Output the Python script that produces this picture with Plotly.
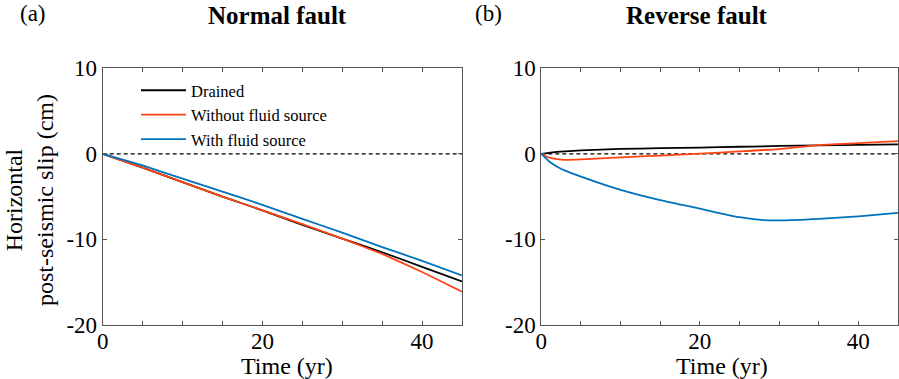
import plotly.graph_objects as go

# ---- data ----
t_normal = [0, 5, 10, 15, 20, 25, 30, 35, 40, 45]
normal_drained = [0, -1.6, -3.3, -5.0, -6.6, -8.3, -9.9, -11.5, -13.2, -14.9]
normal_without = [0, -1.6, -3.3, -5.0, -6.6, -8.2, -9.9, -11.7, -13.8, -16.1]
normal_with = [0, -1.35, -2.9, -4.4, -5.95, -7.6, -9.2, -10.9, -12.5, -14.2]

t_reverse = [0, 1, 2, 3, 5, 10, 15, 20, 25, 28, 30, 35, 40, 45]
reverse_drained = [0, 0.12, 0.23, 0.3, 0.4, 0.58, 0.66, 0.74, 0.83, 0.88, 0.93, 1.0, 1.06, 1.12]
reverse_without = [0, -0.45, -0.62, -0.7, -0.65, -0.4, -0.2, 0.02, 0.28, 0.45, 0.56, 1.02, 1.25, 1.5]
reverse_with = [0, -0.9, -1.5, -1.95, -2.65, -4.2, -5.4, -6.4, -7.4, -7.74, -7.78, -7.6, -7.3, -6.9]

series_names = ["Drained", "Without fluid source", "With fluid source"]
series_colors = ["#000000", "#FF4513", "#0072BD"]

x_tickvals = [0, 5, 10, 15, 20, 25, 30, 35, 40, 45]
x_ticktext = ["0", "", "", "", "20", "", "", "", "40", ""]
y_tickvals = [-20, -10, 0, 10]
y_ticktext = ["-20", "-10", "0", "10"]

panel_titles = ["Normal fault", "Reverse fault"]
panel_labels = ["(a)", "(b)"]
x_title = "Time (yr)"
y_title = "Horizontal<br>post-seismic slip (cm)"

FONT = "Liberation Serif"
W, H = 899, 379


def px_x(p):
    return p / W


def px_y(p):
    return 1 - p / H


fig = go.Figure()

normal = [normal_drained, normal_without, normal_with]
reverse = [reverse_drained, reverse_without, reverse_with]
for i in range(3):
    fig.add_trace(go.Scatter(x=t_normal, y=normal[i], mode="lines", name=series_names[i],
                             line=dict(color=series_colors[i], width=1.8, shape="spline", smoothing=0.3),
                             xaxis="x", yaxis="y", showlegend=True))
for i in range(3):
    fig.add_trace(go.Scatter(x=t_reverse, y=reverse[i], mode="lines", name=series_names[i],
                             line=dict(color=series_colors[i], width=1.8, shape="spline", smoothing=0.5),
                             xaxis="x2", yaxis="y2", showlegend=False))

ydom = [px_y(325), px_y(68.3)]
xdom1 = [px_x(102.7), px_x(462)]
xdom2 = [px_x(541.3), px_x(898.0)]

axis_common = dict(showgrid=False, zeroline=False, showline=True, linecolor="#555555", linewidth=1,
                   mirror="ticks", ticks="inside", ticklen=4, tickcolor="#555555", tickwidth=1,
                   automargin=False,
                   tickfont=dict(family=FONT, size=23, color="#000000"))

xaxis_common = dict(axis_common, ticklabelstandoff=-5)

fig.update_layout(
    template="none",
    width=W, height=H,
    margin=dict(l=0, r=0, t=0, b=0, pad=0),
    paper_bgcolor="white", plot_bgcolor="white",
    font=dict(family=FONT, color="#000000"),
    xaxis=dict(domain=xdom1, range=[0, 45], tickmode="array", tickvals=x_tickvals, ticktext=x_ticktext,
               anchor="y", **xaxis_common),
    yaxis=dict(domain=ydom, range=[-20, 10], tickmode="array", tickvals=y_tickvals, ticktext=y_ticktext,
               anchor="x", **axis_common),
    xaxis2=dict(domain=xdom2, range=[0, 45], tickmode="array", tickvals=x_tickvals, ticktext=x_ticktext,
                anchor="y2", **xaxis_common),
    yaxis2=dict(domain=ydom, range=[-20, 10], tickmode="array", tickvals=y_tickvals, ticktext=y_ticktext,
                anchor="x2", **axis_common),
    legend=dict(x=px_x(136), y=px_y(73), xanchor="left", yanchor="top", bgcolor="rgba(0,0,0,0)",
                font=dict(family=FONT, size=16.5, color="#000000"), tracegroupgap=0, itemwidth=45),
    showlegend=True,
)

for xr, yr in [("x", "y"), ("x2", "y2")]:
    fig.add_shape(type="line", xref=f"{xr} domain", yref=yr, x0=0, x1=1, y0=0, y1=0,
                  line=dict(color="#000000", width=1.2, dash="4px,3px"), layer="below")

annotations = []
for cx, title in zip([277, 697], panel_titles):
    annotations.append(dict(text=f"<b>{title}</b>", x=px_x(cx), y=px_y(15),
                            xref="paper", yref="paper", showarrow=False,
                            font=dict(family=FONT, size=25), xanchor="center", yanchor="middle"))
for cx in [287, 722]:
    annotations.append(dict(text=x_title, x=px_x(cx), y=px_y(366), xref="paper", yref="paper",
                            showarrow=False, font=dict(family=FONT, size=24),
                            xanchor="center", yanchor="middle"))
for cx, label in zip([33, 488], panel_labels):
    annotations.append(dict(text=label, x=px_x(cx), y=px_y(13), xref="paper", yref="paper",
                            showarrow=False, font=dict(family=FONT, size=23),
                            xanchor="center", yanchor="middle"))
annotations.append(dict(text=y_title, x=px_x(29), y=px_y(200), xref="paper", yref="paper",
                        showarrow=False, textangle=-90, font=dict(family=FONT, size=24),
                        xanchor="center", yanchor="middle"))
fig.update_layout(annotations=annotations)

fig.write_html("out.html", config={"displayModeBar": False},
               post_script="document.body.style.margin='0';document.body.style.overflow='hidden';")
